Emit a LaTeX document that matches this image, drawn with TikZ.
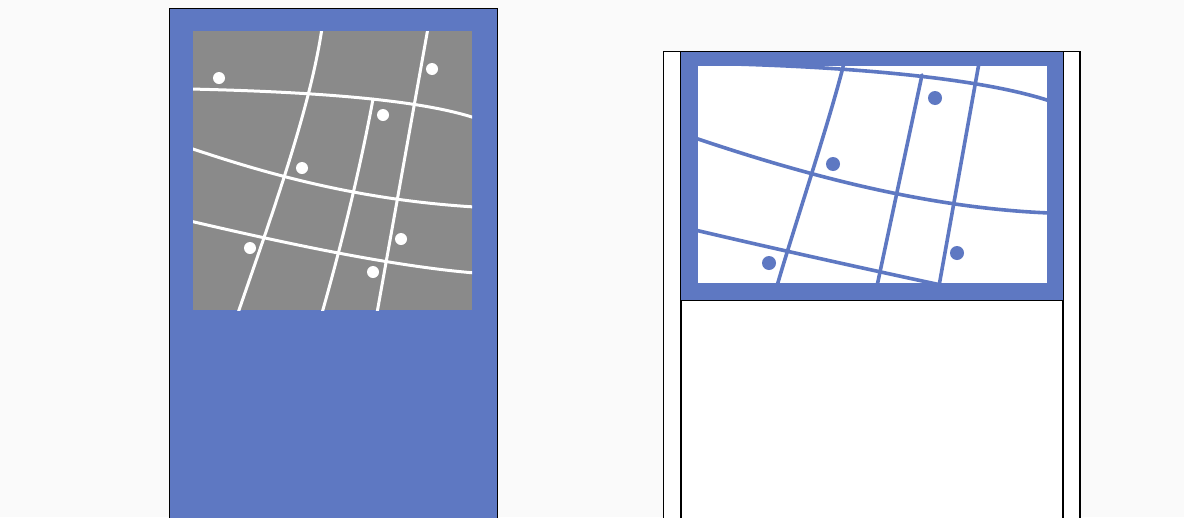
\documentclass[tikz,border=0pt]{standalone}
\begin{document}
\begin{tikzpicture}[x=1pt,y=-1pt,
  frameblue/.style={fill=panelblue},
  wline/.style={white,line width=3pt,line cap=round},
  bline/.style={panelblue,line width=3.6pt,line cap=round},
  wdot/.style={fill=white},
  bdot/.style={fill=panelblue}]
\definecolor{panelblue}{HTML}{5E78C2}
\definecolor{bggray}{HTML}{FAFAFA}
\definecolor{gridgray}{HTML}{8A8A8A}
\useasboundingbox (0,0) rectangle (1184,517);
\fill[bggray] (0,0) rectangle (1184,517);
% ---------- left panel ----------
\draw[frameblue,draw=black,line width=1.2pt] (169.5,8.5) rectangle (497.5,520);
\fill[gridgray] (193,31) rectangle (472,310);
\begin{scope}
\clip (193,31) rectangle (472,310);
\draw[wline] (190,89) .. controls (320,92) and (420,100) .. (475,118);
\draw[wline] (190,148) .. controls (270,175) and (360,200) .. (475,207);
\draw[wline] (190,221) .. controls (280,242) and (390,266) .. (475,273);
\draw[wline] (322,28) .. controls (310,110) and (270,220) .. (238,313);
\draw[wline] (373,99) .. controls (360,170) and (340,250) .. (322,313);
\draw[wline] (428,28) -- (377,313);
\end{scope}
\foreach \p in {(219,78),(432,69),(383,115),(302,168),(250,248),(401,239),(373,272)}
  \fill[wdot] \p circle (6);
% ---------- right panel ----------
\draw[fill=white,draw=black,line width=1.2pt] (663.5,51.5) rectangle (1080,520);
\draw[fill=white,draw=black,line width=1.2pt] (681,51.5) rectangle (1063,520);
\fill[panelblue] (681,52) rectangle (1063,300);
\draw[black,line width=1pt] (681,300) -- (1063,300);
\draw[black,line width=1pt] (681,51.5) -- (1063,51.5);
\fill[white] (698,66) rectangle (1047,283);
\begin{scope}
\clip (698,66) rectangle (1047,283);
\draw[bline] (695,63) .. controls (850,66) and (980,78) .. (1050,101);
\draw[bline] (695,138) .. controls (790,170) and (920,208) .. (1050,213);
\draw[bline] (695,230) .. controls (780,250) and (880,272) .. (941,285);
\draw[bline] (844,63) .. controls (830,120) and (790,240) .. (777,286);
\draw[bline] (922,75) -- (877,286);
\draw[bline] (979,63) -- (939,286);
\end{scope}
\foreach \p in {(935,98),(833,164),(957,253),(769,263)}
  \fill[bdot] \p circle (7);
\end{tikzpicture}
\end{document}
